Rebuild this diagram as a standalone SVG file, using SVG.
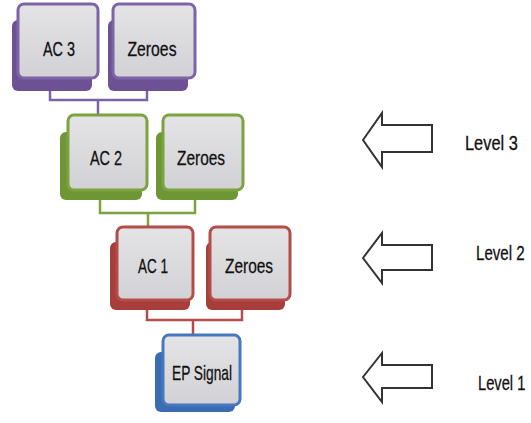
<svg xmlns="http://www.w3.org/2000/svg" width="531" height="423" viewBox="0 0 531 423">
<defs>
<linearGradient id="g" x1="0" y1="0" x2="0" y2="1">
<stop offset="0" stop-color="#e4e4e6"/>
<stop offset="1" stop-color="#d2d2d6"/>
</linearGradient>
<style>
.f{fill:url(#g);stroke-width:3}
.t{font-family:"Liberation Sans",Arial,sans-serif;font-size:21px;fill:#111;text-anchor:middle;stroke:#111;stroke-width:0.3}
.lv{font-family:"Liberation Sans",Arial,sans-serif;font-size:21px;fill:#111;stroke:#111;stroke-width:0.3}
.p .s{fill:#6c5294}.p .f{stroke:#7d64a6}
.gr .s{fill:#6f9634}.gr .f{stroke:#7ba440}
.r .s{fill:#a83e3b}.r .f{stroke:#b44c48}
.b .s{fill:#3a6cb4}.b .f{stroke:#4678bf}
.c{fill:none;stroke-width:2.5}
.arr{fill:#fff;stroke:#333;stroke-width:2}
</style>
</defs>
<rect width="531" height="423" fill="#fff"/>
<g id="connectors">
<path class="c" stroke="#7d64a6" d="M50,91V100H147V91M98,100V115"/>
<path class="c" stroke="#7ba440" d="M100,200V213H195V200M148,213V227"/>
<path class="c" stroke="#b44c48" d="M147,310V320H242V310M193,320V335"/>
</g>
<g id="ac3" class="p"><rect class="s" x="12" y="20" width="80" height="71" rx="6"/><rect class="f" x="18" y="4" width="80" height="74" rx="6"/><text class="t" x="59" y="56" textLength="32" lengthAdjust="spacingAndGlyphs">AC 3</text></g>
<g id="zeroes3" class="p"><rect class="s" x="108" y="20" width="80" height="71" rx="6"/><rect class="f" x="113" y="4" width="82" height="74" rx="6"/><text class="t" x="152" y="56" textLength="49" lengthAdjust="spacingAndGlyphs">Zeroes</text></g>
<g id="ac2" class="gr"><rect class="s" x="60" y="132" width="82" height="68" rx="6"/><rect class="f" x="68" y="115" width="79" height="75" rx="6"/><text class="t" x="106" y="165" textLength="32" lengthAdjust="spacingAndGlyphs">AC 2</text></g>
<g id="zeroes2" class="gr"><rect class="s" x="156" y="132" width="82" height="68" rx="6"/><rect class="f" x="163" y="115" width="80" height="75" rx="6"/><text class="t" x="201" y="165" textLength="48" lengthAdjust="spacingAndGlyphs">Zeroes</text></g>
<g id="ac1" class="r"><rect class="s" x="110" y="242" width="80" height="68" rx="6"/><rect class="f" x="117" y="227" width="76" height="73" rx="6"/><text class="t" x="153" y="273" textLength="30" lengthAdjust="spacingAndGlyphs">AC 1</text></g>
<g id="zeroes1" class="r"><rect class="s" x="206" y="242" width="79" height="68" rx="6"/><rect class="f" x="210" y="227" width="80" height="73" rx="6"/><text class="t" x="249" y="273" textLength="48" lengthAdjust="spacingAndGlyphs">Zeroes</text></g>
<g id="ep" class="b"><rect class="s" x="155" y="352" width="80" height="60" rx="6"/><rect class="f" x="163" y="335" width="77" height="70" rx="6"/><text class="t" x="202" y="380" textLength="60" lengthAdjust="spacingAndGlyphs">EP Signal</text></g>
<g id="level3"><polygon class="arr" points="363,140 382,113 382,125 432,125 432,152 382,152 382,167"/><text class="lv" transform="translate(465,150) scale(0.78,1)">Level 3</text></g>
<g id="level2"><polygon class="arr" points="363,258 382,233 382,245 432,245 432,270 382,270 382,283"/><text class="lv" transform="translate(476,260) scale(0.72,1)">Level 2</text></g>
<g id="level1"><polygon class="arr" points="363,377 382,353 382,365 432,365 432,388 382,388 382,402"/><text class="lv" transform="translate(478,390) scale(0.7,1)">Level 1</text></g>
</svg>
